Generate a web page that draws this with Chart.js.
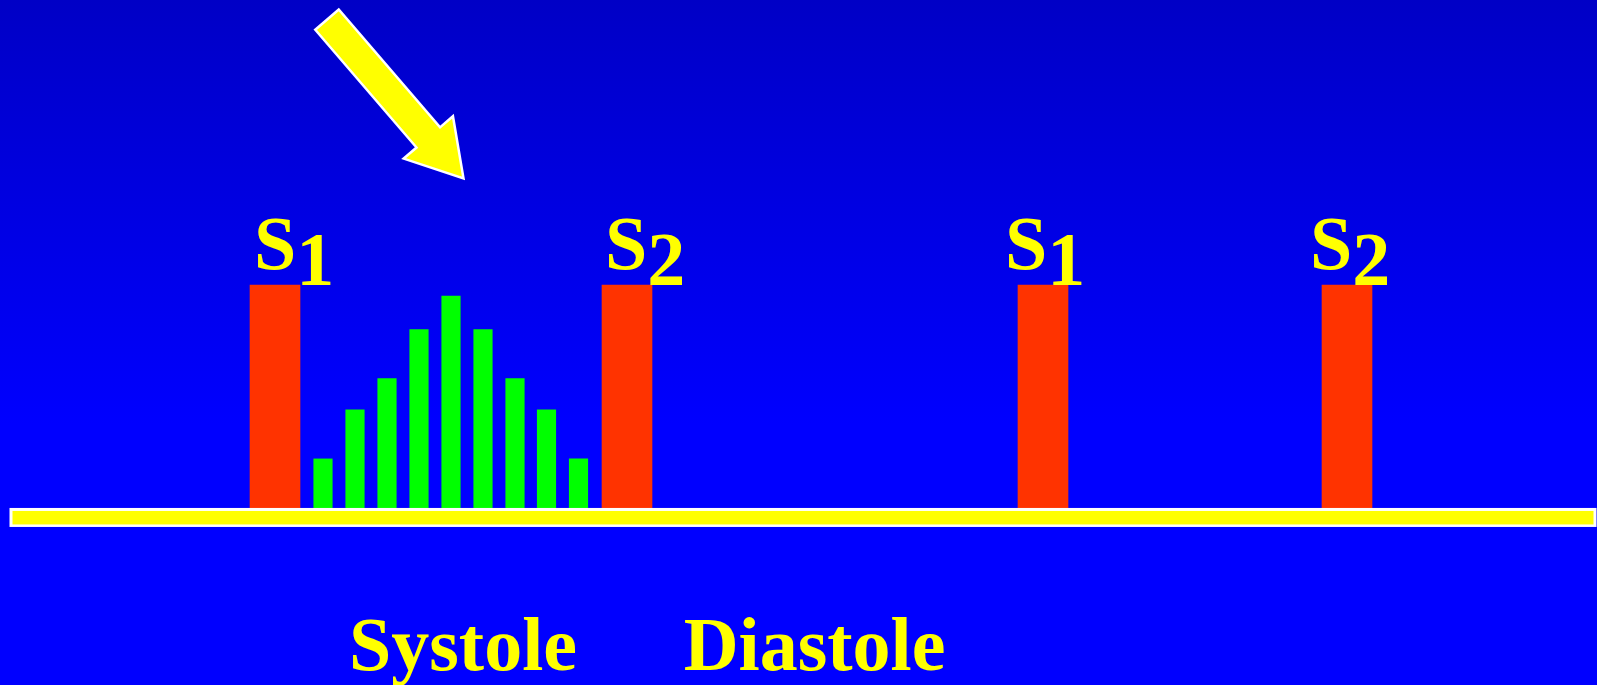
<!DOCTYPE html>
<html>
<head>
<meta charset="utf-8">
<style>
  html, body { margin: 0; padding: 0; background: #0000ff; overflow: hidden; }
  #wrap { width: 1597px; height: 685px; position: relative; }
</style>
<script src="https://cdn.jsdelivr.net/npm/chart.js@4.4.1/dist/chart.umd.min.js"></script>
</head>
<body>
<div id="wrap"><canvas id="pcg"></canvas></div>
<script>
// heart sounds (time on the sweep, amplitude)
const soundNames = ['S1', 'S2', 'S1', 'S2'];
const soundTimes = [275, 627, 1043, 1347];
const soundAmps = [10, 10, 10, 10];
const soundLabelTimes = [254, 605, 1005, 1310];

// systolic murmur (crescendo-decrescendo)
const murmurTimes = [323, 355, 387, 419, 451, 483, 515, 546.5, 578.5];
const murmurAmps = [2.2, 4.4, 5.8, 8.0, 9.5, 8.0, 5.8, 4.4, 2.2];

// phase captions
const phaseNames = ['Systole', 'Diastole'];
const phaseTimes = [463, 814.5];
const phaseLevel = -7.25;

// arrow pointing at the murmur: [time, amplitude]
const arrowTail = [327, 21.9];
const arrowTip = [463.5, 14.78];

// sweep range and baseline extent
const sweepStart = 0;
const sweepEnd = 1597;
const baseFrom = 9.5;
const baseTo = 1596.5;

const ampMin = -7.94;
const ampMax = 22.78;

const serif = '"Liberation Serif", "Times New Roman", serif';

const backgroundPlugin = {
    id: 'bg',
    beforeDraw(chart) {
        const { ctx, width, height } = chart;
        const g = ctx.createLinearGradient(0, 0, 0, height);
        g.addColorStop(0, '#0000c6');
        g.addColorStop(0.62, '#0000ff');
        g.addColorStop(1, '#0000ff');
        ctx.save();
        ctx.fillStyle = g;
        ctx.fillRect(0, 0, width, height);
        ctx.restore();
    }
};

const decorPlugin = {
    id: 'decor',
    afterDatasetsDraw(chart) {
        const { ctx, scales } = chart;
        const x = scales.x, y = scales.y;
        ctx.save();

        // baseline
        const by = y.getPixelForValue(0);
        const bx0 = x.getPixelForValue(baseFrom);
        const bx1 = x.getPixelForValue(baseTo);
        ctx.fillStyle = '#ffffff';
        ctx.fillRect(bx0, by, bx1 - bx0, 19);
        ctx.fillStyle = '#ffff00';
        ctx.fillRect(bx0 + 3, by + 3, bx1 - bx0 - 6, 13.5);

        // S1 / S2 labels
        ctx.fillStyle = '#ffff00';
        ctx.textAlign = 'left';
        ctx.textBaseline = 'alphabetic';
        ctx.font = 'bold 76px ' + serif;
        soundNames.forEach((name, i) => {
            const lx = x.getPixelForValue(soundLabelTimes[i]);
            const top = y.getPixelForValue(soundAmps[i]);
            ctx.fillText(name[0], lx, top - 16);
            const w = ctx.measureText(name[0]).width;
            ctx.fillText(name.slice(1), lx + w, top);
        });

        // Systole / Diastole
        ctx.textAlign = 'center';
        ctx.font = 'bold 76px ' + serif;
        phaseNames.forEach((name, i) => {
            ctx.fillText(name, x.getPixelForValue(phaseTimes[i]), y.getPixelForValue(phaseLevel));
        });

        // arrow
        const tx = x.getPixelForValue(arrowTail[0]), ty = y.getPixelForValue(arrowTail[1]);
        const px = x.getPixelForValue(arrowTip[0]), py = y.getPixelForValue(arrowTip[1]);
        const len = Math.hypot(px - tx, py - ty);
        const ux = (px - tx) / len, uy = (py - ty) / len;
        const nx = -uy, ny = ux;
        const shaft = 15.5, head = 32.5, headLen = 54;
        const hx = px - ux * headLen, hy = py - uy * headLen;
        const pts = [
            [tx + nx * shaft, ty + ny * shaft],
            [tx - nx * shaft, ty - ny * shaft],
            [hx - nx * shaft, hy - ny * shaft],
            [hx - nx * head, hy - ny * head],
            [px, py],
            [hx + nx * head, hy + ny * head],
            [hx + nx * shaft, hy + ny * shaft]
        ];
        ctx.beginPath();
        pts.forEach((p, i) => i ? ctx.lineTo(p[0], p[1]) : ctx.moveTo(p[0], p[1]));
        ctx.closePath();
        ctx.fillStyle = '#ffff00';
        ctx.fill();
        ctx.lineWidth = 2.5;
        ctx.lineJoin = 'miter';
        ctx.strokeStyle = '#ffffff';
        ctx.stroke();

        ctx.restore();
    }
};

new Chart(document.getElementById('pcg'), {
    type: 'bar',
    data: {
        datasets: [
            {
                label: 'heart sounds',
                data: soundTimes.map((t, i) => ({ x: t, y: soundAmps[i] })),
                backgroundColor: '#ff3300',
                barThickness: 50,
                grouped: false
            },
            {
                label: 'murmur',
                data: murmurTimes.map((t, i) => ({ x: t, y: murmurAmps[i] })),
                backgroundColor: '#00ff00',
                barThickness: 18.5,
                grouped: false
            }
        ]
    },
    options: {
        responsive: true,
        maintainAspectRatio: false,
        animation: false,
        layout: { padding: 0 },
        plugins: {
            legend: { display: false },
            tooltip: { enabled: false }
        },
        scales: {
            x: { type: 'linear', min: sweepStart, max: sweepEnd, offset: false, display: false },
            y: { min: ampMin, max: ampMax, display: false }
        }
    },
    plugins: [backgroundPlugin, decorPlugin]
});
</script>
</body>
</html>
